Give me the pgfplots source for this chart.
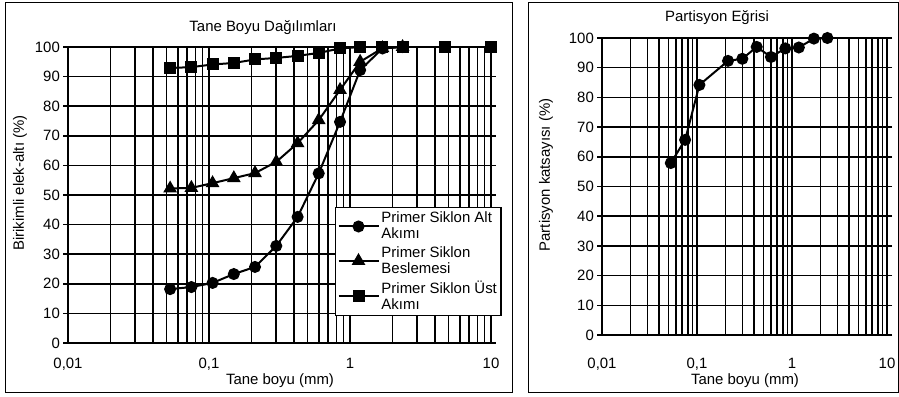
\documentclass[border=0pt]{standalone}
\usepackage{pgfplots}
\pgfplotsset{compat=1.18}
\usepackage{fontspec}
\setmainfont{Liberation Sans}

\pgfplotsset{/pgf/number format/assume math mode=true}
\pgfplotsset{legend image code/.code={\draw[mark repeat=2,mark phase=2,#1] plot coordinates {(0bp,0bp) (20bp,0bp) (40bp,0bp)};}}

\begin{document}
\fontsize{15}{16.5}\selectfont
\begin{tikzpicture}[x=1bp,y=1bp]
\useasboundingbox (0,0) rectangle (899,396);
% frames
\draw[line width=1pt] (5,4) rectangle (512,394);
\draw[line width=1pt] (528,4) rectangle (898,394);

% ---------- left chart ----------
\begin{axis}[
  xmode=log, scale only axis, xmin=0.01, xmax=10, ymin=0, ymax=100,
  xtick={0.01,0.02,0.03,0.04,0.05,0.06,0.07,0.08,0.09,0.1,0.2,0.3,0.4,0.5,0.6,0.7,0.8,0.9,1,2,3,4,5,6,7,8,9,10},
  xticklabels={{0,01},,,,,,,,,{0,1},,,,,,,,,1,,,,,,,,,10},
  minor xtick={},
  ytick={0,10,...,100},
  grid=major,
  major grid style={black, line width=1.6pt},
  axis line style={black, line width=1.8pt},
  tick align=outside,
  major tick length=5bp,
  xtick style={draw=none},
  ytick style={black,line width=1.5pt},
  yticklabel style={anchor=east, inner sep=0pt, xshift=-3bp},
  clip=false,
  at={(68bp,53bp)}, anchor=south west,
  width=423bp, height=296bp,
  xticklabel style={anchor=base, inner sep=0pt, yshift=-20bp},
  legend style={at={(rel axis cs:0.631,0.459)}, anchor=north west,
    draw=black, line width=1.2pt, fill=white, cells={align=left},
    inner sep=2bp, row sep=1bp},
  legend cell align=left,
]
\addplot[black, line width=2pt, mark=*, mark size=5bp] coordinates {
 (0.053,18.2) (0.075,18.9) (0.106,20.3) (0.15,23.3) (0.212,25.7) (0.3,32.8)
 (0.425,42.6) (0.6,57.3) (0.85,74.7) (1.18,92.2) (1.7,99.5) (2.36,100)};
\addlegendentry{Primer Siklon Alt\\Akımı}
\addplot[black, line width=2pt, mark=triangle*, mark size=6bp] coordinates {
 (0.053,52.2) (0.075,52.4) (0.106,54) (0.15,55.7) (0.212,57.4) (0.3,61.2)
 (0.425,67.5) (0.6,75.3) (0.85,85.5) (1.18,95) (1.7,99.6) (2.36,100)};
\addlegendentry{Primer Siklon\\Beslemesi}
\addplot[black, line width=2pt, mark=square*, mark size=5bp] coordinates {
 (0.053,92.9) (0.075,93.2) (0.106,94.1) (0.15,94.6) (0.212,95.8) (0.3,96.3)
 (0.425,97) (0.6,98) (0.85,99.5) (1.18,100) (1.7,100) (2.36,100) (4.75,100) (10,100)};
\addlegendentry{Primer Siklon Üst\\Akımı}
\end{axis}

% ---------- right chart ----------
\begin{axis}[
  xmode=log, scale only axis, xmin=0.01, xmax=10, ymin=0, ymax=100,
  xtick={0.01,0.02,0.03,0.04,0.05,0.06,0.07,0.08,0.09,0.1,0.2,0.3,0.4,0.5,0.6,0.7,0.8,0.9,1,2,3,4,5,6,7,8,9,10},
  xticklabels={{0,01},,,,,,,,,{0,1},,,,,,,,,1,,,,,,,,,10},
  minor xtick={},
  ytick={0,10,...,100},
  grid=major,
  major grid style={black, line width=1.6pt},
  axis line style={black, line width=1.8pt},
  tick align=outside,
  major tick length=5bp,
  xtick style={draw=none},
  ytick style={black,line width=1.5pt},
  yticklabel style={anchor=east, inner sep=0pt, xshift=-3bp},
  clip=false,
  at={(602bp,61bp)}, anchor=south west,
  width=285bp, height=297bp,
  xticklabel style={anchor=base, inner sep=0pt, yshift=-28bp},
]
\addplot[black, line width=2pt, mark=*, mark size=5bp] coordinates {
 (0.053,57.9) (0.075,65.7) (0.106,84.2) (0.212,92.3) (0.3,93) (0.425,97)
 (0.6,93.6) (0.85,96.5) (1.18,96.8) (1.7,99.8) (2.36,100)};
\end{axis}

% labels
\node at (263,368) {Tane Boyu Dağılımları};
\node at (717,378) {Partisyon Eğrisi};
\node at (280,15) {Tane boyu (mm)};
\node at (745,15) {Tane boyu (mm)};
\node[rotate=90] at (20,213) {Birikimli elek-altı (\%)};
\node[rotate=90] at (546,221) {Partisyon katsayısı (\%)};
\end{tikzpicture}
\end{document}
